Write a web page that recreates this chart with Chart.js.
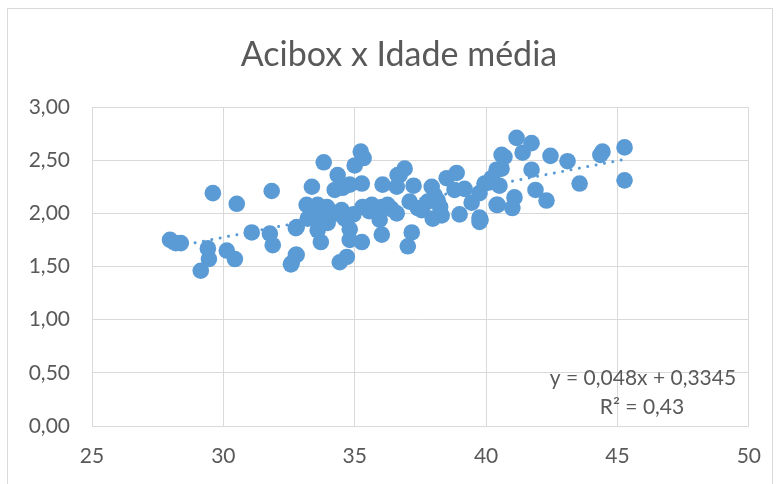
<!DOCTYPE html>
<html>
<head>
<meta charset="utf-8">
<script src="https://cdn.jsdelivr.net/npm/chart.js@4/dist/chart.umd.min.js"></script>
<style>
  html, body { margin: 0; padding: 0; background: #ffffff; }
  #wrap { position: relative; width: 779px; height: 484px; overflow: hidden; }
  #frame { position: absolute; left: 7px; top: 8px; width: 766px; height: 500px;
           border: 1px solid #d9d9d9; box-sizing: border-box; }
  #c { position: absolute; left: 0; top: 0; }
</style>
</head>
<body>
<div id="wrap">
  <div id="frame"></div>
  <canvas id="c" width="779" height="484"></canvas>
</div>
<script>
// Idade média (x) and Acibox (y) for each observation
const idadeMedia = [
  27.97, 28.19, 28.38, 29.14, 29.45, 29.41, 29.60, 30.13, 30.44, 30.51,
  31.08, 31.77, 31.88, 31.84, 32.76, 32.76, 32.57,
  33.82, 35.23, 35.34, 35.00, 34.35, 33.37, 34.24, 34.54, 34.81, 35.27,
  36.06, 36.60, 36.63, 33.17, 33.59, 33.94, 33.21, 33.59, 34.50, 34.62,
  33.97, 32.79, 33.59, 34.81, 33.71, 34.81, 35.27, 35.30, 35.65, 36.03,
  36.25, 35.95, 36.03, 32.79, 32.60, 34.70, 34.43,
  36.90, 36.71, 37.24, 38.50, 38.88, 37.93, 38.80, 39.18, 37.09, 37.40,
  37.78, 38.04, 38.16, 38.31, 37.97, 36.60, 38.99, 39.45, 39.79, 37.17,
  37.02, 39.94, 40.21, 40.44, 40.59, 40.40, 39.75,
  41.16, 41.73, 41.39, 40.70, 42.45, 43.10, 41.73, 40.59, 40.40, 40.13,
  40.51, 41.88, 41.08, 42.30, 40.44, 41.00, 39.75, 39.75, 43.56,
  44.43, 44.35, 45.27, 45.27,
  33.40, 34.05, 34.95, 35.55, 36.40, 37.55, 38.25, 34.30
];
const acibox = [
  1.75, 1.72, 1.72, 1.46, 1.57, 1.67, 2.19, 1.65, 1.57, 2.09,
  1.82, 1.81, 1.70, 2.21, 1.86, 1.61, 1.52,
  2.48, 2.58, 2.52, 2.45, 2.36, 2.25, 2.22, 2.24, 2.27, 2.28,
  2.27, 2.25, 2.36, 2.08, 2.08, 2.06, 1.95, 1.96, 2.03, 1.95,
  1.91, 1.87, 1.84, 1.85, 1.73, 1.75, 1.73, 2.06, 2.08, 2.06,
  2.08, 1.94, 1.80, 1.61, 1.53, 1.59, 1.54,
  2.42, 2.36, 2.26, 2.33, 2.38, 2.25, 2.22, 2.23, 2.11, 2.05,
  2.11, 2.17, 2.12, 1.98, 1.95, 2.00, 1.99, 2.10, 1.94, 1.82,
  1.69, 2.28, 2.33, 2.41, 2.55, 2.08, 2.19,
  2.71, 2.66, 2.57, 2.53, 2.54, 2.49, 2.41, 2.42, 2.41, 2.29,
  2.26, 2.22, 2.15, 2.12, 2.08, 2.05, 1.96, 1.92, 2.28,
  2.58, 2.55, 2.62, 2.31,
  2.01, 1.98, 1.99, 2.02, 2.04, 2.03, 2.06, 2.00
];

// Axis tick values
const xTicks = [25, 30, 35, 40, 45, 50];
const yTicks = [0, 0.5, 1, 1.5, 2, 2.5, 3];

const chartTitle = 'Acibox x Idade média';

// Linear trendline coefficients as printed on the chart
const trendSlope = 0.048;
const trendIntercept = 0.3345;
const trendR2 = 0.43;

const fmtComma = (v, d) => v.toFixed(d).replace('.', ',');

const points = idadeMedia.map((x, i) => ({ x: x, y: acibox[i] }));
const xMin = Math.min(...idadeMedia);
const xMax = Math.max(...idadeMedia);
const trendPoints = [
  { x: xMin, y: trendSlope * xMin + trendIntercept },
  { x: xMax, y: trendSlope * xMax + trendIntercept }
];

const textColor = '#595959';
const gridColor = '#d9d9d9';
const blue = '#5b9bd5';

// Title and trendline equation text
const textPlugin = {
  id: 'chartText',
  afterDraw(chart) {
    const ctx = chart.ctx;
    ctx.save();
    ctx.fillStyle = textColor;
    ctx.textAlign = 'center';
    ctx.textBaseline = 'alphabetic';
    ctx.font = '34px Lato';
    ctx.fillText(chartTitle, 399, 66);
    ctx.font = '21px Lato';
    const slopeTxt = String(trendSlope).replace('.', ',');
    const interTxt = String(trendIntercept).replace('.', ',');
    ctx.fillText('y = ' + slopeTxt + 'x + ' + interTxt, 643, 385);
    ctx.fillText('R² = ' + fmtComma(trendR2, 2), 642, 414);
    ctx.restore();
  }
};

new Chart(document.getElementById('c'), {
  type: 'scatter',
  data: {
    datasets: [
      {
        type: 'line',
        label: 'Tendência',
        data: trendPoints,
        borderColor: blue,
        borderWidth: 3,
        borderDash: [0.01, 8.5],
        borderCapStyle: 'round',
        pointRadius: 0,
        fill: false,
        order: 0
      },
      {
        label: 'Acibox',
        data: points,
        backgroundColor: blue,
        borderColor: blue,
        borderWidth: 0,
        pointRadius: 8.3,
        pointHoverRadius: 8.3,
        order: 1
      }
    ]
  },
  options: {
    responsive: false,
    animation: false,
    devicePixelRatio: 1,
    layout: { padding: { left: 0, top: 107, right: 29, bottom: 0 } },
    plugins: {
      legend: { display: false },
      title: { display: false },
      tooltip: { enabled: false }
    },
    scales: {
      x: {
        type: 'linear',
        min: 25,
        max: 50,
        afterBuildTicks: (s) => { s.ticks = xTicks.map(v => ({ value: v })); },
        afterFit: (s) => { s.height = 58; },
        ticks: {
          color: textColor,
          font: { family: 'Lato', size: 21 },
          padding: 18,
          maxRotation: 0,
          callback: (v) => String(v)
        },
        grid: { color: gridColor, lineWidth: 1, drawTicks: false },
        border: { display: true, color: gridColor, width: 1 }
      },
      y: {
        type: 'linear',
        min: 0,
        max: 3,
        afterBuildTicks: (s) => { s.ticks = yTicks.map(v => ({ value: v })); },
        afterFit: (s) => { s.width = 92; },
        ticks: {
          color: textColor,
          font: { family: 'Lato', size: 21 },
          padding: 22,
          callback: (v) => fmtComma(v, 2)
        },
        grid: { color: gridColor, lineWidth: 1, drawTicks: false },
        border: { display: false }
      }
    }
  },
  plugins: [textPlugin]
});
</script>
</body>
</html>
